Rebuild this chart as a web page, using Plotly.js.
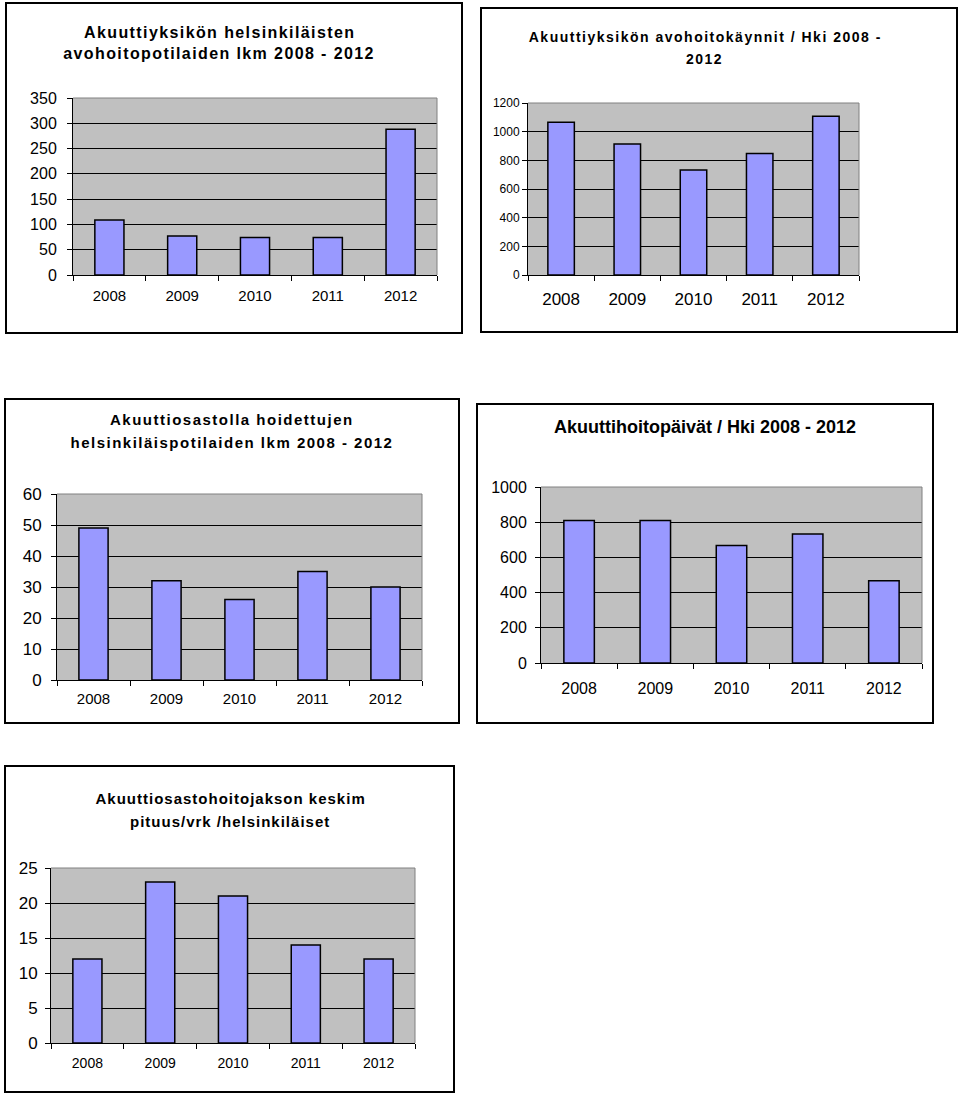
<!DOCTYPE html>
<html>
<head>
<meta charset="utf-8">
<script src="https://cdn.plot.ly/plotly-3.0.1.min.js"></script>
<style>
  html, body { margin: 0; padding: 0; background: #fff; }
  #page { position: relative; width: 960px; height: 1098px; overflow: hidden; }
  .plot { position: absolute; }
  .frame { position: absolute; border: 2px solid #000; box-sizing: border-box; pointer-events: none; }
  #c1 .annotation-text { letter-spacing: 1.4px; }
  #c2 .annotation-text { letter-spacing: 1.5px; }
  #c3 .annotation-text { letter-spacing: 1.5px; }
  #c5 .annotation-text { letter-spacing: 1px; }
</style>
</head>
<body>
<div id="page"></div>
<script>
// ---- data ----
const years = ['2008', '2009', '2010', '2011', '2012'];
const avohoitopotilaat = [109, 77, 74, 74, 288];
const avohoitokaynnit = [1065, 914, 732, 848, 1107];
const osastopotilaat = [49, 32, 26, 35, 30];
const hoitopaivat = [809, 809, 667, 733, 467];
const keskipituus = [12, 23, 21, 14, 12];

const title1 = ['Akuuttiyksikön helsinkiläisten', 'avohoitopotilaiden lkm 2008 - 2012'];
const title2 = ['Akuuttiyksikön avohoitokäynnit / Hki 2008 -', '2012'];
const title3 = ['Akuuttiosastolla hoidettujen', 'helsinkiläispotilaiden lkm 2008 - 2012'];
const title4 = ['Akuuttihoitopäivät / Hki 2008 - 2012'];
const title5 = ['Akuuttiosastohoitojakson keskim', 'pituus/vrk /helsinkiläiset'];

const yMax = [350, 1200, 60, 1000, 25];
const yStep = [50, 200, 10, 200, 5];

// ---- styling / layout ----
const SANS = 'Liberation Sans, Arial, sans-serif';
const NARROW = '"Liberation Sans Narrow", "Arial Narrow", Liberation Sans, sans-serif';

const charts = [
  { id: 'c1', values: avohoitopotilaat, title: title1, ymax: yMax[0], dtick: yStep[0],
    box: [5, 2, 463, 334], plot: [73, 98, 437, 275],
    titleFont: { family: SANS, size: 16 }, titleX: [219, 219], titleY: [32, 53],
    yFont: { family: SANS, size: 16 }, xFont: { family: SANS, size: 15 },
    yStand: 7, xStand: 7 },
  { id: 'c2', values: avohoitokaynnit, title: title2, ymax: yMax[1], dtick: yStep[1],
    box: [480, 7, 958, 333], plot: [528, 103, 859, 275],
    titleFont: { family: SANS, size: 14 }, titleX: [705, 704], titleY: [37, 59],
    yFont: { family: NARROW, size: 12 }, xFont: { family: NARROW, size: 17 },
    yStand: 0, xStand: 9 },
  { id: 'c3', values: osastopotilaat, title: title3, ymax: yMax[2], dtick: yStep[2],
    box: [4, 398, 460, 724], plot: [57, 494, 422, 680],
    titleFont: { family: SANS, size: 15 }, titleX: [232, 232], titleY: [420, 442],
    yFont: { family: SANS, size: 17 }, xFont: { family: SANS, size: 15 },
    yStand: 6, xStand: 5 },
  { id: 'c4', values: hoitopaivat, title: title4, ymax: yMax[3], dtick: yStep[3],
    box: [476, 403, 934, 724], plot: [541, 487, 922, 663],
    titleFont: { family: NARROW, size: 18 }, titleX: [705], titleY: [427],
    yFont: { family: SANS, size: 16 }, xFont: { family: SANS, size: 16 },
    yStand: 5, xStand: 11 },
  { id: 'c5', values: keskipituus, title: title5, ymax: yMax[4], dtick: yStep[4],
    box: [4, 765, 455, 1093], plot: [51, 868, 415, 1043],
    titleFont: { family: SANS, size: 15 }, titleX: [230, 230], titleY: [798, 822],
    yFont: { family: SANS, size: 17 }, xFont: { family: SANS, size: 14 },
    yStand: 4, xStand: 7 }
];

const page = document.getElementById('page');

charts.forEach(c => {
  const [bx0, by0, bx1, by1] = c.box;
  const [px0, py0, px1, py1] = c.plot;
  const w = bx1 - bx0, h = by1 - by0;
  const l = px0 - bx0, r = bx1 - px1, t = py0 - by0, b = by1 - py1;
  const pw = px1 - px0, ph = py1 - py0;

  const div = document.createElement('div');
  div.id = c.id; div.className = 'plot';
  div.style.left = bx0 + 'px'; div.style.top = by0 + 'px';
  div.style.width = w + 'px'; div.style.height = h + 'px';
  page.appendChild(div);

  const frame = document.createElement('div');
  frame.className = 'frame';
  frame.style.left = bx0 + 'px'; frame.style.top = by0 + 'px';
  frame.style.width = w + 'px'; frame.style.height = h + 'px';
  page.appendChild(frame);

  const annotations = c.title.map((line, i) => ({
    text: '<b>' + line + '</b>',
    xref: 'paper', yref: 'paper',
    x: (c.titleX[i] - px0) / pw,
    y: (py1 - c.titleY[i]) / ph,
    xanchor: 'center', yanchor: 'middle',
    showarrow: false,
    font: Object.assign({ color: '#000' }, c.titleFont)
  }));

  const trace = {
    type: 'bar',
    x: years,
    y: c.values,
    marker: { color: '#9999FF', line: { color: '#000', width: 1.5 } },
    hoverinfo: 'none'
  };

  const layout = {
    width: w, height: h,
    margin: { l: l, r: r, t: t, b: b, pad: 0 },
    paper_bgcolor: 'rgba(0,0,0,0)',
    plot_bgcolor: '#C0C0C0',
    showlegend: false,
    bargap: 0.6,
    font: { family: SANS, color: '#000' },
    xaxis: {
      type: 'category',
      showgrid: false,
      showline: true, linecolor: '#000', linewidth: 1,
      ticks: 'outside', tickson: 'boundaries', ticklen: 5, tickcolor: '#000', tickwidth: 1,
      tickfont: Object.assign({ color: '#000' }, c.xFont),
      ticklabelstandoff: c.xStand,
      fixedrange: true
    },
    yaxis: {
      range: [0, c.ymax], dtick: c.dtick, tick0: 0,
      showgrid: true, gridcolor: '#000', gridwidth: 1,
      zeroline: false,
      showline: true, linecolor: '#000', linewidth: 1,
      ticks: 'outside', ticklen: 5, tickcolor: '#000', tickwidth: 1,
      tickfont: Object.assign({ color: '#000' }, c.yFont),
      ticklabelstandoff: c.yStand,
      fixedrange: true
    },
    shapes: [
      { type: 'line', xref: 'paper', yref: 'paper', x0: 0, x1: 1, y0: 1, y1: 1,
        line: { color: '#808080', width: 1 }, layer: 'above' },
      { type: 'line', xref: 'paper', yref: 'paper', x0: 1, x1: 1, y0: 0, y1: 1,
        line: { color: '#808080', width: 1 }, layer: 'above' }
    ],
    annotations: annotations
  };

  Plotly.newPlot(div, [trace], layout, { staticPlot: true, displayModeBar: false });
});
</script>
</body>
</html>
